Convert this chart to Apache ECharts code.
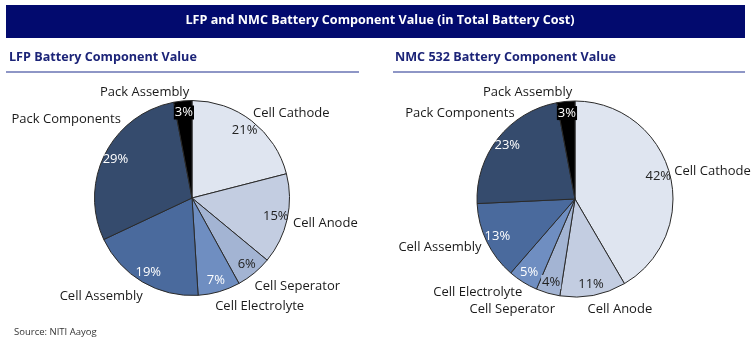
<!DOCTYPE html>
<html><head><meta charset="utf-8">
<script src="https://cdn.jsdelivr.net/npm/echarts@6/dist/echarts.min.js"></script>
<style>html,body{margin:0;padding:0;background:#fff}#c{width:751px;height:344px}</style>
</head><body><div id="c"></div>
<script>
const categories = ['Cell Cathode','Cell Anode','Cell Seperator','Cell Electrolyte','Cell Assembly','Pack Components','Pack Assembly'];
const lfpValues = [21, 15, 6, 7, 19, 29, 3];
const nmcValues = [42, 11, 4, 5, 13, 23, 3];
const mainTitle = 'LFP and NMC Battery Component Value (in Total Battery Cost)';
const lfpTitle = 'LFP Battery Component Value';
const nmcTitle = 'NMC 532 Battery Component Value';
const sourceText = 'Source: NITI Aayog';

const sliceColors = ['#dfe5f0','#c3cde1','#a3b4d3','#6f8ec1','#4a6a9d','#354b6d','#000000'];
const pctColors = ['#222','#222','#222','#fff','#fff','#fff','#fff'];
// label nudges (px) to mimic the reference's hand-placed category labels
const lfpLabelShift = [[-6,-2],[-4,3],[-7,8],[-9,8],[7,8],[25,-31],[10,-2]];
const nmcLabelShift = [[-5,0],[-10,7],[12,9],[6,4],[4,3],[25,-21],[10,-2]];
const FONT = '"Open Sans", "Noto Sans", sans-serif';

function baseData(values) {
  return categories.map((name, i) => ({
    name, value: values[i],
    itemStyle: { color: sliceColors[i] }
  }));
}
function pctData(values, bgIdx) {
  return categories.map((name, i) => {
    const d = { name, value: values[i], label: { color: pctColors[i] } };
    if (bgIdx[i]) { d.label.backgroundColor = bgIdx[i]; d.label.padding = [1, 1, 0, 1]; }
    return d;
  });
}
function pieSeries(center, r, values, bgIdx, shifts) {
  return [{
    type: 'pie', center, radius: r, startAngle: 90, clockwise: true,
    avoidLabelOverlap: false, silent: true, animation: false,
    itemStyle: { borderColor: '#2a2a2a', borderWidth: 1 },
    label: { show: true, position: 'outside', formatter: '{b}', color: '#1a1a1a',
             fontFamily: FONT, fontSize: 13, distanceToLabelLine: 3 },
    labelLine: { show: false, length: 7, length2: 0 },
    labelLayout: function (p) {
      const s = shifts[p.dataIndex];
      return { dx: s[0], dy: s[1], hideOverlap: false, moveOverlap: null };
    },
    data: baseData(values)
  }, {
    type: 'pie', center, radius: [r * 0.7, r], startAngle: 90, clockwise: true,
    avoidLabelOverlap: false, silent: true, animation: false,
    itemStyle: { color: 'rgba(0,0,0,0)', borderWidth: 0 },
    label: { show: true, position: 'inside', formatter: '{c}%', fontFamily: FONT, fontSize: 13 },
    labelLine: { show: false },
    labelLayout: { hideOverlap: false },
    data: pctData(values, bgIdx)
  }];
}

const chart = echarts.init(document.getElementById('c'), null, { renderer: 'canvas' });
chart.setOption({
  backgroundColor: '#fff',
  animation: false,
  graphic: [
    { type: 'rect', shape: { x: 6, y: 5, width: 739, height: 33 }, style: { fill: '#020a6e' }, silent: true },
    { type: 'rect', shape: { x: 6, y: 71, width: 353, height: 2 }, style: { fill: '#8e96c6' }, silent: true },
    { type: 'rect', shape: { x: 393, y: 71, width: 352, height: 2 }, style: { fill: '#8e96c6' }, silent: true }
  ],
  title: [
    { text: mainTitle, left: 380, top: 14, textAlign: 'center', padding: 0,
      textStyle: { color: '#fff', fontFamily: FONT, fontSize: 12.6, fontWeight: 'bold' } },
    { text: lfpTitle, left: 9, top: 51, padding: 0,
      textStyle: { color: '#1c2478', fontFamily: FONT, fontSize: 12.6, fontWeight: 'bold' } },
    { text: nmcTitle, left: 395, top: 51, padding: 0,
      textStyle: { color: '#1c2478', fontFamily: FONT, fontSize: 12.6, fontWeight: 'bold' } },
    { text: sourceText, left: 14, top: 327, padding: 0,
      textStyle: { color: '#333', fontFamily: FONT, fontSize: 9.5, fontWeight: 'normal' } }
  ],
  series: [
    ...pieSeries([192, 198], 97.5, lfpValues, { 6: '#000000' }, lfpLabelShift),
    ...pieSeries([575, 199], 98, nmcValues, { 2: '#a3b4d3', 6: '#000000' }, nmcLabelShift)
  ]
});
</script></body></html>
